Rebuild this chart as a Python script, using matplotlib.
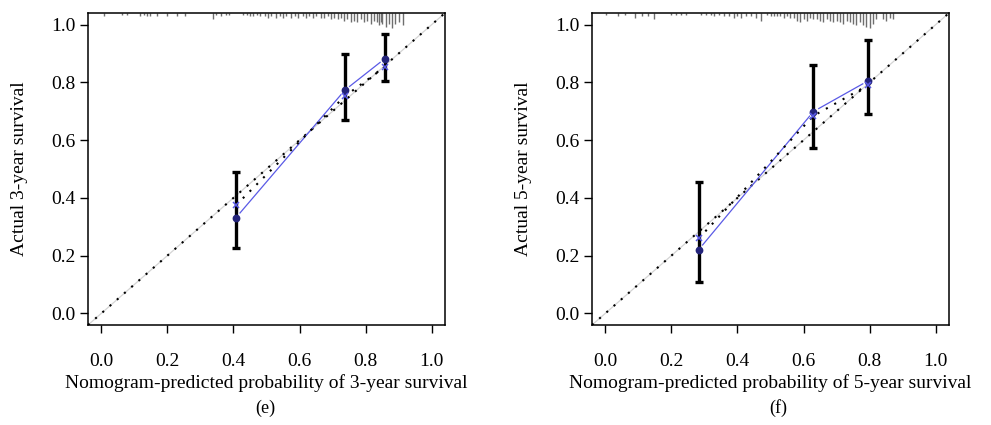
import matplotlib
matplotlib.use('Agg')
import matplotlib.pyplot as plt
import numpy as np

plt.rcParams['font.family'] = ['Liberation Serif', 'DejaVu Serif']

ticks = [0.0, 0.2, 0.4, 0.6, 0.8, 1.0]
tick_labels = ['0.0', '0.2', '0.4', '0.6', '0.8', '1.0']

# ---- panel (e): 3-year ----
e_pred = [0.408, 0.737, 0.858]
e_obs = [0.332, 0.773, 0.882]
e_corr = [0.375, 0.752, 0.853]
e_lo = [0.226, 0.670, 0.805]
e_hi = [0.490, 0.897, 0.966]
e_rug_x = [0.007, 0.063, 0.078, 0.118, 0.128, 0.138, 0.148, 0.168, 0.198, 0.228,
           0.253, 0.338, 0.348, 0.363, 0.378, 0.388, 0.43, 0.44, 0.45, 0.46,
           0.47, 0.48, 0.495, 0.505, 0.515, 0.53, 0.54, 0.55, 0.56, 0.575,
           0.585, 0.595, 0.61, 0.62, 0.63, 0.64, 0.65, 0.665, 0.675, 0.685,
           0.695, 0.705, 0.715, 0.725, 0.735, 0.745, 0.755, 0.765, 0.775, 0.785,
           0.795, 0.805, 0.815, 0.825, 0.835, 0.84, 0.845, 0.85, 0.86, 0.87,
           0.88, 0.89, 0.9, 0.913]
e_rug_n = [2, 1, 1, 2, 1, 2, 2, 2, 2, 2,
           2, 4, 1, 2, 1, 1, 1, 1, 2, 2,
           1, 2, 2, 3, 2, 3, 2, 3, 2, 3,
           2, 3, 2, 3, 2, 3, 2, 3, 3, 2,
           4, 3, 4, 3, 5, 4, 6, 5, 6, 4,
           6, 5, 7, 5, 6, 8, 6, 7, 9, 7,
           10, 7, 6, 8]

# ---- panel (f): 5-year ----
f_pred = [0.283, 0.630, 0.795]
f_obs = [0.221, 0.699, 0.805]
f_corr = [0.260, 0.684, 0.790]
f_lo = [0.108, 0.573, 0.690]
f_hi = [0.456, 0.860, 0.945]
f_rug_x = [0.002, 0.04, 0.06, 0.09, 0.11, 0.13, 0.148, 0.2, 0.215, 0.23,
           0.245, 0.29, 0.305, 0.32, 0.33, 0.345, 0.36, 0.375, 0.39, 0.4,
           0.41, 0.425, 0.44, 0.455, 0.47, 0.49, 0.5, 0.51, 0.52, 0.53,
           0.54, 0.55, 0.56, 0.57, 0.58, 0.59, 0.6, 0.61, 0.62, 0.63,
           0.64, 0.65, 0.66, 0.67, 0.68, 0.69, 0.7, 0.71, 0.72, 0.73,
           0.74, 0.75, 0.76, 0.77, 0.78, 0.79, 0.8, 0.81, 0.82, 0.84,
           0.85, 0.86, 0.87]
f_rug_n = [1, 2, 1, 3, 2, 2, 4, 1, 1, 1,
           1, 1, 1, 1, 2, 1, 2, 2, 3, 2,
           3, 2, 2, 3, 5, 1, 2, 2, 2, 2,
           3, 2, 3, 3, 5, 6, 4, 5, 3, 4,
           4, 5, 6, 4, 5, 6, 5, 6, 7, 5,
           6, 7, 8, 6, 8, 9, 10, 7, 4, 4,
           5, 3, 4]

xlabels = ['Nomogram-predicted probability of 3-year survival',
           'Nomogram-predicted probability of 5-year survival']
ylabels = ['Actual 3-year survival', 'Actual 5-year survival']
captions = ['(e)', '(f)']

fig = plt.figure(figsize=(9.91, 4.25), dpi=100)
W, H = 991.0, 425.0
ax_boxes = [[88 / W, 1 - 325 / H, 357 / W, 312 / H],
            [592 / W, 1 - 325 / H, 357 / W, 312 / H]]

panels = [(e_pred, e_obs, e_corr, e_lo, e_hi, e_rug_x, e_rug_n),
          (f_pred, f_obs, f_corr, f_lo, f_hi, f_rug_x, f_rug_n)]

navy = '#23237a'
blue = '#5a5ae6'
lim = (-0.04, 1.04)

for i, (pred, obs, corr, lo, hi, rx, rn) in enumerate(panels):
    ax = fig.add_axes(ax_boxes[i])
    ax.set_xlim(lim)
    ax.set_ylim(lim)
    for s in ax.spines.values():
        s.set_linewidth(1.1)
        s.set_color('black')
    ax.set_xticks(ticks)
    ax.set_xticklabels(tick_labels)
    ax.set_yticks(ticks)
    ax.set_yticklabels(tick_labels)
    ax.tick_params(direction='out', length=6, width=1.0, labelsize=14, pad=3)
    ax.tick_params(axis='x', pad=14)

    # ideal line
    ax.plot(lim, lim, color='#d4d4d4', lw=0.9, zorder=1)
    ax.plot(lim, lim, color='black', lw=1.5, linestyle=(0, (1, 3.6)),
            dash_capstyle='butt', zorder=2)

    # spike histogram at top
    k = 0.0052
    rx = np.asarray(rx)
    rn = np.asarray(rn)
    ax.vlines(rx, lim[1] - rn * k, lim[1], color='#6e6e6e', lw=1.0, zorder=2)

    fig.canvas.draw()
    # observed line with gaps around points (R type='b')
    pts = ax.transData.transform(np.column_stack([pred, obs]))
    gap = 6.0
    for a, b in zip(pts[:-1], pts[1:]):
        d = b - a
        L = np.hypot(*d)
        u = d / L
        p0 = ax.transData.inverted().transform(a + u * gap)
        p1 = ax.transData.inverted().transform(b - u * gap)
        ax.plot([p0[0], p1[0]], [p0[1], p1[1]], color=blue, lw=0.9, zorder=3)

    # bias-corrected line (dotted)
    ax.plot(pred, corr, color='black', lw=1.5, linestyle=(0, (1, 3.6)),
            dash_capstyle='butt', zorder=3)

    # error bars
    obs_a = np.asarray(obs)
    yerr = [obs_a - np.asarray(lo), np.asarray(hi) - obs_a]
    ax.errorbar(pred, obs, yerr=yerr, fmt='none', ecolor='black', elinewidth=2.4,
                capsize=3.2, capthick=2.4, zorder=4)
    ax.plot(pred, obs, 'o', color=navy, ms=4.6, zorder=5)
    ax.plot(pred, corr, 'x', color=blue, ms=4.5, mew=1.1, zorder=5)

    ax.set_xlabel(xlabels[i], fontsize=14)
    ax.xaxis.set_label_coords(0.5, -(383 - 325) / 312.0)
    ax.xaxis.label.set_va('center')
    ax.set_ylabel(ylabels[i], fontsize=14)
    left_px = ax_boxes[i][0] * W
    ax.yaxis.set_label_coords(-(left_px - (20 if i == 0 else 523)) / 357.0, 0.5)
    ax.yaxis.label.set_va('center')

fig.text(265 / W, 1 - 408 / H, captions[0], ha='center', va='center', fontsize=13)
fig.text(778 / W, 1 - 408 / H, captions[1], ha='center', va='center', fontsize=13)

fig.savefig('out.png', dpi=100)
